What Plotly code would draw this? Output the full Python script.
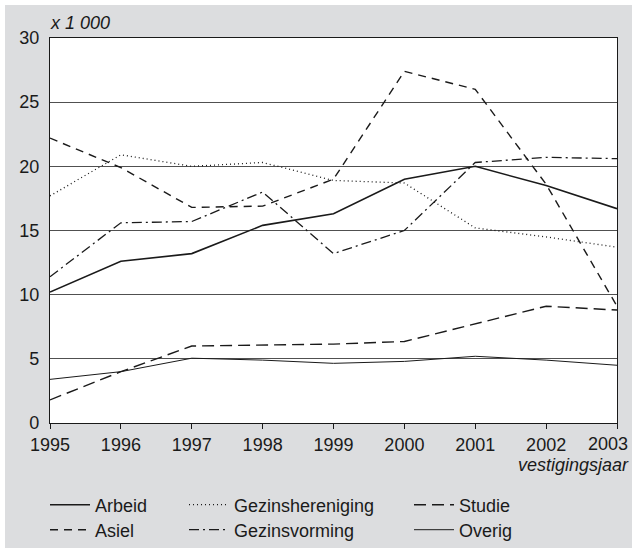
import plotly.graph_objects as go

years = [1995, 1996, 1997, 1998, 1999, 2000, 2001, 2002, 2003]
year_labels = ['1995', '1996', '1997', '1998', '1999', '2000', '2001', '2002', '2003']
y_ticks = [0, 5, 10, 15, 20, 25, 30]

arbeid = [10.2, 12.6, 13.2, 15.4, 16.3, 19.0, 20.0, 18.5, 16.7]
gezinshereniging = [17.7, 20.9, 20.0, 20.3, 18.9, 18.7, 15.2, 14.5, 13.7]
studie = [1.8, 4.0, 6.0, 6.05, 6.15, 6.35, 7.7, 9.1, 8.8]
asiel = [22.2, 19.9, 16.8, 16.9, 19.0, 27.4, 26.0, 18.6, 9.1]
gezinsvorming = [11.4, 15.6, 15.7, 18.0, 13.2, 15.0, 20.3, 20.7, 20.6]
overig = [3.4, 4.0, 5.05, 4.9, 4.65, 4.8, 5.2, 4.9, 4.5]

W, H = 632, 548
ML, MR, MT, MB = 50, 15, 38, 125
PW, PH = W - ML - MR, H - MT - MB
FONT = 'Liberation Sans, Arial, sans-serif'
GREY = '#dcdddf'
INK = '#1a1a1a'


def px_x(px):
    return (px - ML) / PW


def px_y(py):
    return (H - MB - py) / PH


# name, values, line style, legend slot (line start x px, row center y px)
series = [
    ('Arbeid', arbeid, dict(color=INK, width=1.6, dash='solid'), (51, 505)),
    ('Gezinshereniging', gezinshereniging, dict(color=INK, width=1.3, dash='1px,3px'), (190, 505)),
    ('Studie', studie, dict(color=INK, width=1.4, dash='12px,6px'), (415, 505)),
    ('Asiel', asiel, dict(color=INK, width=1.4, dash='8px,6px'), (51, 530)),
    ('Gezinsvorming', gezinsvorming, dict(color=INK, width=1.3, dash='10px,4px,2px,4px'), (190, 530)),
    ('Overig', overig, dict(color=INK, width=1.0, dash='solid'), (415, 530)),
]

fig = go.Figure()
legends = {}
for i, (name, values, line, (lx, ly)) in enumerate(series):
    key = 'legend' if i == 0 else f'legend{i + 1}'
    fig.add_trace(go.Scatter(x=years, y=values, name=name, mode='lines',
                             line=line, legend=key))
    legends[key] = dict(orientation='v', yanchor='middle', xanchor='left',
                        x=px_x(lx - 6), y=px_y(ly),
                        bgcolor='rgba(0,0,0,0)', borderwidth=0,
                        font=dict(family=FONT, size=18, color=INK),
                        itemwidth=40)

fig.update_layout(**legends)

# the last year label is pulled left so it stays inside the frame, as in the original
tick_text = year_labels[:-1] + ['']
last_label = dict(text=year_labels[-1], xref='x', yref='paper', x=years[-1], xshift=13,
                  y=px_y(444), xanchor='right', yanchor='middle', showarrow=False,
                  font=dict(size=18))

fig.update_layout(
    width=W, height=H,
    margin=dict(l=ML, r=MR, t=MT, b=MB, autoexpand=False),
    paper_bgcolor=GREY,
    plot_bgcolor='white',
    font=dict(family=FONT, size=18, color=INK),
    showlegend=True,
    xaxis=dict(range=[1995, 2003], tickvals=years, ticktext=tick_text,
               ticks='outside', ticklen=5,
               tickcolor=INK, showgrid=False, zeroline=False, automargin=False,
               ticklabeloverflow='allow',
               showline=True, linecolor=INK, linewidth=1.2, mirror=True,
               tickfont=dict(size=18)),
    yaxis=dict(range=[0, 30], tickvals=y_ticks, ticks='',
               showgrid=True, gridcolor='#505050', gridwidth=1, zeroline=False,
               automargin=False, ticklabeloverflow='allow', ticklabelstandoff=6,
               showline=True, linecolor=INK, linewidth=1.2, mirror=True,
               tickfont=dict(size=18)),
    annotations=[
        dict(text='<i>x 1 000</i>', xref='paper', yref='paper', x=px_x(48), y=px_y(23),
             xanchor='left', yanchor='middle', showarrow=False, font=dict(size=18)),
        dict(text='<i>vestigingsjaar</i>', xref='paper', yref='paper', x=px_x(631), y=px_y(465),
             xanchor='right', yanchor='middle', showarrow=False, font=dict(size=18)),
        last_label,
    ],
    shapes=[
        dict(type='rect', xref='paper', yref='paper', x0=px_x(0), x1=px_x(632),
             y0=px_y(0), y1=px_y(5), fillcolor='white', line=dict(width=0)),
        dict(type='rect', xref='paper', yref='paper', x0=px_x(0), x1=px_x(5),
             y0=px_y(0), y1=px_y(548), fillcolor='white', line=dict(width=0)),
    ],
)

fig.write_html('out.html', config={'displayModeBar': False},
               post_script="document.body.style.margin = '0';")
